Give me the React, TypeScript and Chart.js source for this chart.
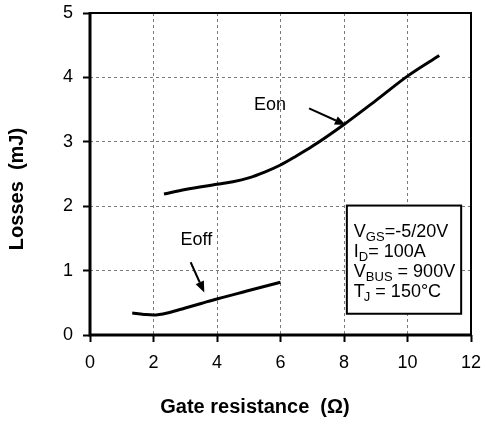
import React, { useEffect, useRef } from 'react';
import { Chart, registerables } from 'chart.js';

Chart.register(...registerables);

const FONT = '"Liberation Sans", Arial, sans-serif';

// Eon series (gate resistance in ohm, losses in mJ)
const eonR = [2.33, 3, 4, 4.5, 5, 5.5, 6, 6.5, 7, 8, 9, 10, 11];
const eonLoss = [2.19, 2.26, 2.34, 2.38, 2.44, 2.53, 2.64, 2.78, 2.93, 3.27, 3.64, 4.02, 4.34];

// Eoff series
const eoffR = [1.33, 1.7, 2, 2.5, 3, 3.5, 4, 5, 6];
const eoffLoss = [0.34, 0.32, 0.31, 0.35, 0.42, 0.49, 0.56, 0.69, 0.82];

// Axis ticks
const xTickValues = [0, 2, 4, 6, 8, 10, 12];
const yTickValues = [0, 1, 2, 3, 4, 5];

// Annotations (data coordinates)
const eonLabel = { text: 'Eon', x: 5.67, y: 3.57 };
const eonArrow = { x1: 6.9, y1: 3.52, x2: 8.06, y2: 3.26 };
const eoffLabel = { text: 'Eoff', x: 3.35, y: 1.47 };
const eoffArrow = { x1: 3.17, y1: 1.13, x2: 3.6, y2: 0.66 };

// Conditions box (data coordinates) and its lines: [main, subscript, rest]
const condBox = { x1: 8.09, y1: 2.01, x2: 11.69, y2: 0.33 };
const condLines: [string, string, string][] = [
  ['V', 'GS', '=-5/20V'],
  ['I', 'D', '= 100A'],
  ['V', 'BUS', ' = 900V'],
  ['T', 'J', ' = 150°C'],
];

const xTitle = 'Gate resistance  (Ω)';
const yTitle = 'Losses  (mJ)';

function drawArrow(ctx: CanvasRenderingContext2D, x1: number, y1: number, x2: number, y2: number) {
  const ang = Math.atan2(y2 - y1, x2 - x1);
  const head = 11;
  const half = 4.5;
  const bx = x2 - head * Math.cos(ang);
  const by = y2 - head * Math.sin(ang);
  ctx.save();
  ctx.strokeStyle = '#000';
  ctx.fillStyle = '#000';
  ctx.lineWidth = 2;
  ctx.beginPath();
  ctx.moveTo(x1, y1);
  ctx.lineTo(bx, by);
  ctx.stroke();
  ctx.beginPath();
  ctx.moveTo(x2, y2);
  ctx.lineTo(bx + half * Math.sin(ang), by - half * Math.cos(ang));
  ctx.lineTo(bx - half * Math.sin(ang), by + half * Math.cos(ang));
  ctx.closePath();
  ctx.fill();
  ctx.restore();
}

const decorPlugin = {
  id: 'decor',
  afterDatasetsDraw(chart: any) {
    const { ctx, chartArea, scales } = chart;
    const px = (v: number) => scales.x.getPixelForValue(v);
    const py = (v: number) => scales.y.getPixelForValue(v);
    ctx.save();

    // frame
    ctx.strokeStyle = '#000';
    ctx.lineWidth = 2;
    ctx.beginPath();
    ctx.moveTo(chartArea.left, chartArea.top);
    ctx.lineTo(chartArea.right, chartArea.top);
    ctx.lineTo(chartArea.right, chartArea.bottom);
    ctx.stroke();
    ctx.lineWidth = 3;
    ctx.beginPath();
    ctx.moveTo(chartArea.left, chartArea.top - 1);
    ctx.lineTo(chartArea.left, chartArea.bottom);
    ctx.lineTo(chartArea.right + 1, chartArea.bottom);
    ctx.stroke();

    // labels
    ctx.fillStyle = '#000';
    ctx.font = `18px ${FONT}`;
    ctx.textAlign = 'center';
    ctx.textBaseline = 'middle';
    ctx.fillText(eonLabel.text, px(eonLabel.x), py(eonLabel.y));
    ctx.fillText(eoffLabel.text, px(eoffLabel.x), py(eoffLabel.y));
    drawArrow(ctx, px(eonArrow.x1), py(eonArrow.y1), px(eonArrow.x2), py(eonArrow.y2));
    drawArrow(ctx, px(eoffArrow.x1), py(eoffArrow.y1), px(eoffArrow.x2), py(eoffArrow.y2));

    // conditions box
    const bx1 = px(condBox.x1), by1 = py(condBox.y1), bx2 = px(condBox.x2), by2 = py(condBox.y2);
    ctx.fillStyle = '#fff';
    ctx.fillRect(bx1, by1, bx2 - bx1, by2 - by1);
    ctx.strokeStyle = '#000';
    ctx.lineWidth = 2;
    ctx.strokeRect(bx1, by1, bx2 - bx1, by2 - by1);
    ctx.fillStyle = '#000';
    ctx.textAlign = 'left';
    ctx.textBaseline = 'alphabetic';
    condLines.forEach((ln, i) => {
      const baseY = by1 + 31 + i * 20;
      let x = bx1 + 7;
      ctx.font = `18px ${FONT}`;
      ctx.fillText(ln[0], x, baseY);
      x += ctx.measureText(ln[0]).width - (ln[0] === 'T' ? 1 : 0);
      ctx.font = `13px ${FONT}`;
      ctx.fillText(ln[1], x, baseY + 4);
      x += ctx.measureText(ln[1]).width;
      ctx.font = `18px ${FONT}`;
      ctx.fillText(ln[2], x, baseY);
    });

    // axis titles
    ctx.font = `bold 20px ${FONT}`;
    ctx.textAlign = 'center';
    ctx.textBaseline = 'middle';
    ctx.fillText(xTitle, 255, 407);
    ctx.save();
    ctx.translate(17, 189);
    ctx.rotate(-Math.PI / 2);
    ctx.fillText(yTitle, 0, 0);
    ctx.restore();

    ctx.restore();
  },
};

export default function App() {
  const ref = useRef<HTMLCanvasElement | null>(null);

  useEffect(() => {
    if (!ref.current) return;
    const gridCommon = {
      color: '#7a7a7a',
      lineWidth: 1,
      tickColor: '#000',
      tickWidth: 2,
      tickLength: 7,
      tickBorderDash: [],
    };
    const chart = new Chart(ref.current, {
      type: 'line',
      data: {
        datasets: [
          {
            label: 'Eon',
            data: eonR.map((r, i) => ({ x: r, y: eonLoss[i] })),
            borderColor: '#000',
            borderWidth: 3,
            pointRadius: 0,
            cubicInterpolationMode: 'monotone',
            fill: false,
          },
          {
            label: 'Eoff',
            data: eoffR.map((r, i) => ({ x: r, y: eoffLoss[i] })),
            borderColor: '#000',
            borderWidth: 3,
            pointRadius: 0,
            cubicInterpolationMode: 'monotone',
            fill: false,
          },
        ],
      },
      options: {
        animation: false,
        responsive: false,
        devicePixelRatio: 1,
        layout: { padding: { top: 13, right: 15, left: 0, bottom: 0 } },
        plugins: { legend: { display: false }, tooltip: { enabled: false } },
        scales: {
          x: {
            type: 'linear',
            min: 0,
            max: 12,
            afterBuildTicks: (s: any) => {
              s.ticks = xTickValues.map((v) => ({ value: v }));
            },
            afterFit: (s: any) => {
              s.height = 89;
              s.paddingLeft = 0;
              s.paddingRight = 0;
            },
            ticks: { font: { family: FONT, size: 18 }, color: '#000', padding: 10, maxRotation: 0 },
            grid: gridCommon,
            border: { display: false, dash: [3, 3] },
          },
          y: {
            type: 'linear',
            min: 0,
            max: 5,
            afterBuildTicks: (s: any) => {
              s.ticks = yTickValues.map((v) => ({ value: v }));
            },
            afterFit: (s: any) => {
              s.width = 90;
              s.paddingTop = 0;
              s.paddingBottom = 0;
            },
            ticks: { font: { family: FONT, size: 18 }, color: '#000', padding: 10 },
            grid: gridCommon,
            border: { display: false, dash: [3, 3] },
          },
        },
      },
      plugins: [decorPlugin],
    } as any);
    return () => chart.destroy();
  }, []);

  return (
    <div style={{ position: 'fixed', left: 0, top: 0, width: 486, height: 424, background: '#fff' }}>
      <canvas ref={ref} width={486} height={424} style={{ width: 486, height: 424, display: 'block' }} />
    </div>
  );
}
